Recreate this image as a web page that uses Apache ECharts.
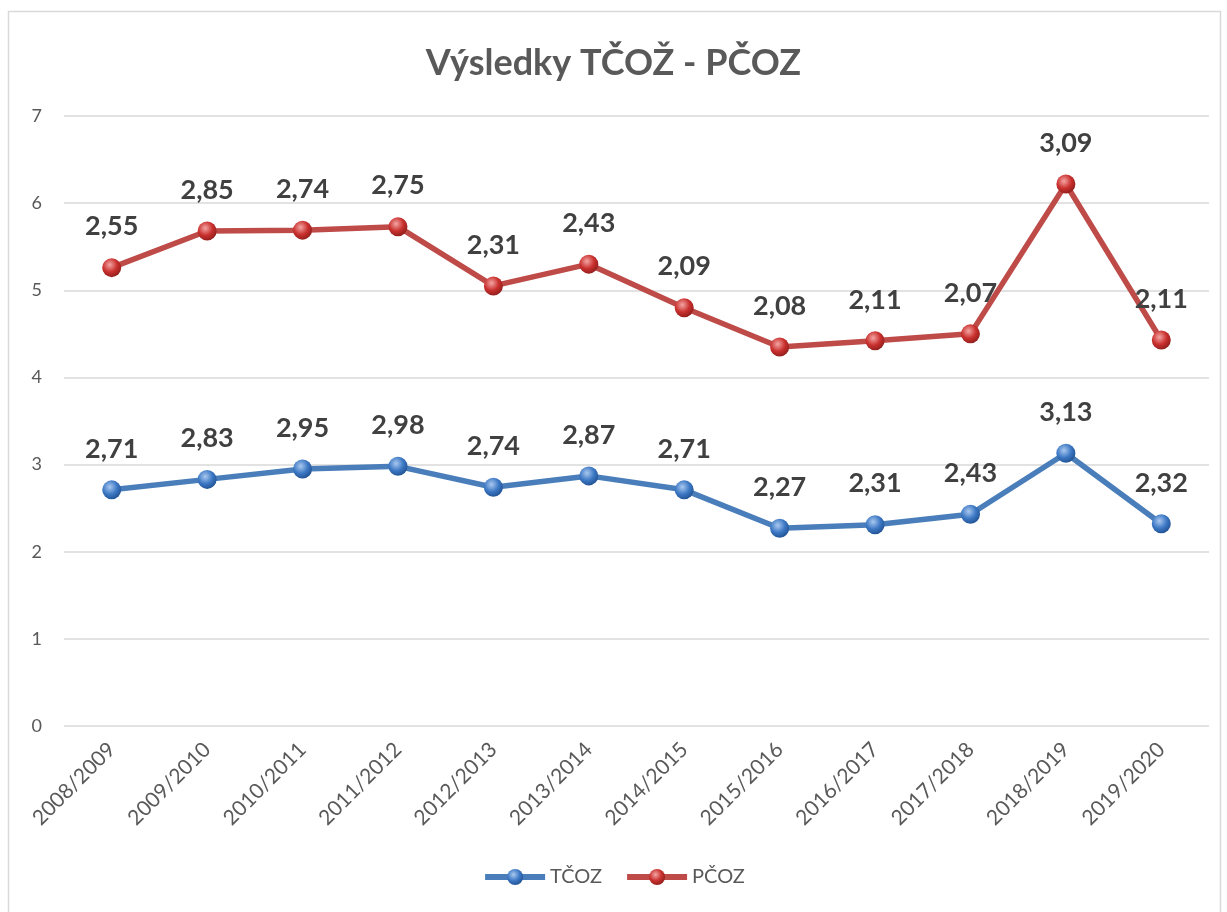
<!DOCTYPE html>
<html>
<head>
<meta charset="utf-8">
<script src="https://cdn.jsdelivr.net/npm/echarts@6/dist/echarts.min.js"></script>
<style>
  html, body { margin: 0; padding: 0; background: #fff; }
  #chart { width: 1227px; height: 912px; }
</style>
</head>
<body>
<div id="chart"></div>
<script>
// data
var years = ['2008/2009', '2009/2010', '2010/2011', '2011/2012', '2012/2013', '2013/2014',
             '2014/2015', '2015/2016', '2016/2017', '2017/2018', '2018/2019', '2019/2020'];
var tcoz = [2.71, 2.83, 2.95, 2.98, 2.74, 2.87, 2.71, 2.27, 2.31, 2.43, 3.13, 2.32];
var pcoz = [2.55, 2.85, 2.74, 2.75, 2.31, 2.43, 2.09, 2.08, 2.11, 2.07, 3.09, 2.11];
var yTicks = [0, 1, 2, 3, 4, 5, 6, 7];

var FONT = 'Lato, "Open Sans", sans-serif';

function ball(light, base, dark) {
  return {
    type: 'radial', x: 0.4, y: 0.35, r: 0.7,
    colorStops: [
      { offset: 0, color: light },
      { offset: 0.55, color: base },
      { offset: 1, color: dark }
    ]
  };
}

function comma(p) {
  return p.value.toFixed(2).replace('.', ',');
}

var chart = echarts.init(document.getElementById('chart'));

var labelStyle = {
  show: true,
  position: 'top',
  distance: 18,
  formatter: comma,
  fontFamily: FONT,
  fontWeight: 'bold',
  fontSize: 27,
  color: '#404040'
};

var option = {
  backgroundColor: '#fff',
  animation: false,
  title: {
    text: 'Výsledky TČOŽ - PČOZ',
    left: 'center',
    top: 40,
    textStyle: { fontFamily: FONT, fontWeight: 'bold', fontSize: 36, color: '#595959' }
  },
  graphic: [{
    type: 'rect',
    shape: { x: 8.5, y: 11.5, width: 1212, height: 930 },
    style: { fill: 'none', stroke: '#d9d9d9', lineWidth: 1.5 },
    silent: true
  }],
  legend: {
    bottom: 20,
    left: 'center',
    itemWidth: 60,
    itemHeight: 20,
    itemGap: 22,
    lineStyle: { width: 6 },
    textStyle: { fontFamily: FONT, fontSize: 20, color: '#595959' },
    data: ['TČOZ', 'PČOZ']
  },
  grid: { left: 64, right: 18, top: 116, bottom: 186 },
  xAxis: {
    type: 'category',
    data: years,
    boundaryGap: true,
    axisLine: { show: false },
    axisTick: { show: false },
    axisLabel: {
      rotate: 45,
      margin: 20,
      fontFamily: FONT,
      fontSize: 21,
      color: '#595959',
      interval: 0
    }
  },
  yAxis: {
    type: 'value',
    min: yTicks[0],
    max: yTicks[yTicks.length - 1],
    interval: 1,
    axisLine: { show: false },
    axisTick: { show: false },
    axisLabel: { margin: 22, fontFamily: FONT, fontSize: 18, color: '#595959' },
    splitLine: { lineStyle: { color: '#d9d9d9', width: 1.5 } }
  },
  series: [
    {
      name: 'TČOZ',
      type: 'line',
      stack: 'total',
      data: tcoz,
      symbol: 'circle',
      symbolSize: 19,
      lineStyle: { color: '#4a7ebb', width: 5.5 },
      itemStyle: { color: ball('#a9c8ef', '#3d78c4', '#1f4f8f'), borderWidth: 0 },
      label: labelStyle
    },
    {
      name: 'PČOZ',
      type: 'line',
      stack: 'total',
      data: pcoz,
      symbol: 'circle',
      symbolSize: 19,
      lineStyle: { color: '#be4b48', width: 5.5 },
      itemStyle: { color: ball('#f3a5a3', '#c9302e', '#8c1d1b'), borderWidth: 0 },
      label: labelStyle
    }
  ]
};

chart.setOption(option);
</script>
</body>
</html>
